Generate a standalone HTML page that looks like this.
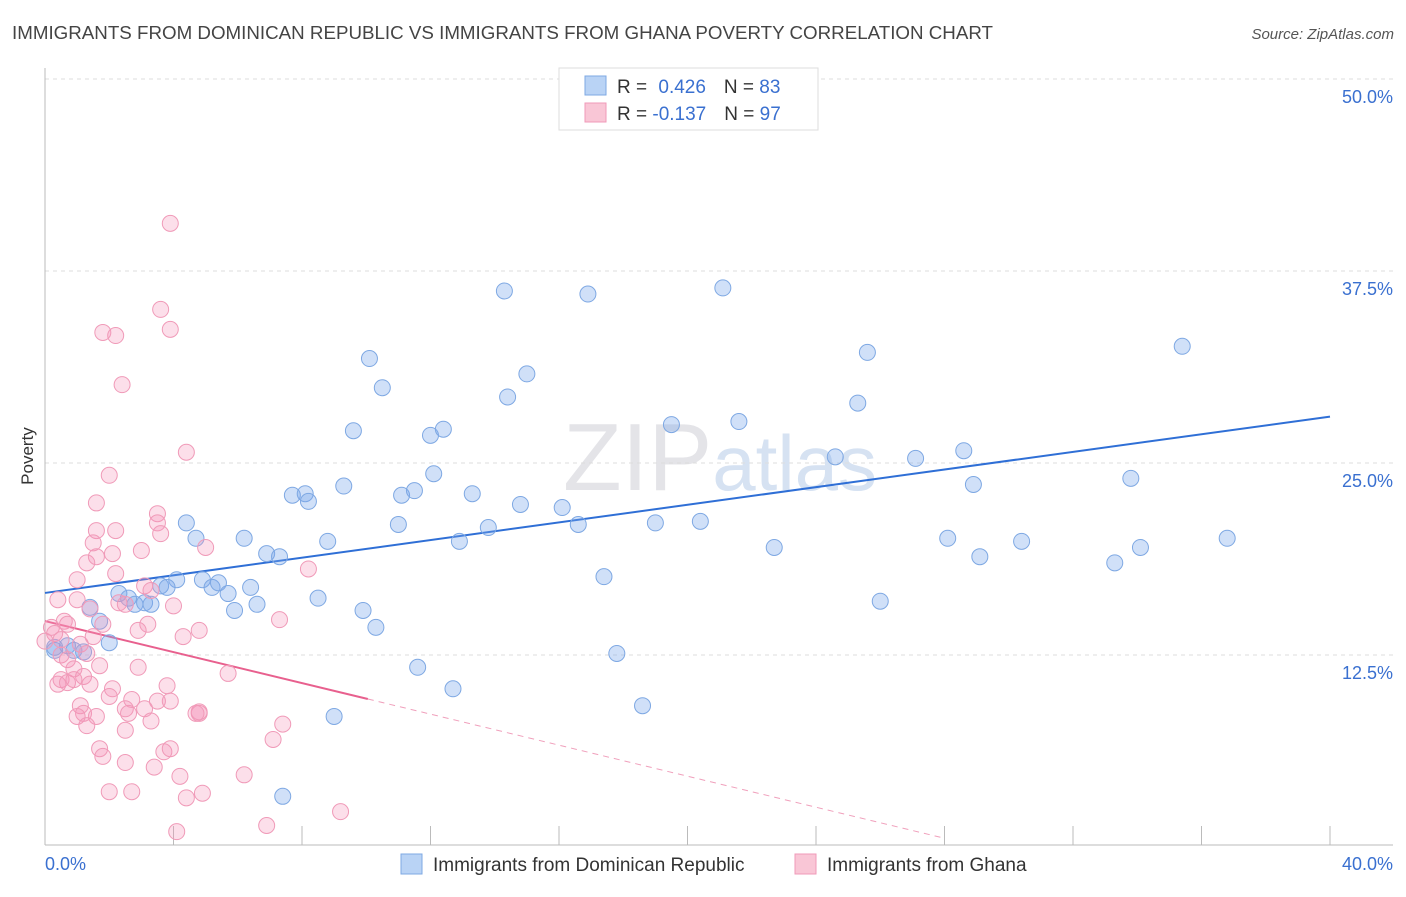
<!DOCTYPE html>
<html><head><meta charset="utf-8">
<style>
body{margin:0;background:#fff;font-family:"Liberation Sans",sans-serif;}
svg text{font-family:"Liberation Sans",sans-serif;}
</style></head>
<body>
<svg id="chart" width="1406" height="892">
<text x="12" y="39" font-size="18" fill="#444" textLength="981" lengthAdjust="spacingAndGlyphs">IMMIGRANTS FROM DOMINICAN REPUBLIC VS IMMIGRANTS FROM GHANA POVERTY CORRELATION CHART</text>
<text x="1394" y="39" font-size="15" fill="#555" font-style="italic" text-anchor="end">Source: ZipAtlas.com</text>
<text x="720" y="490" font-size="96" fill="#e4e4e8" text-anchor="middle" font-family="Liberation Serif">ZIP<tspan fill="#d6e2f2" font-family="Liberation Sans" font-size="78">atlas</tspan></text>
<g id="grid"></g>
<g id="axes"></g>
<g id="lines"></g>
<g id="points"></g>
<text x="33" y="456" font-size="17" fill="#333" text-anchor="middle" transform="rotate(-90 33 456)">Poverty</text>
<g>
<rect x="559" y="68" width="259" height="62" fill="#fff" stroke="#ddd"/>
<rect x="585" y="76" width="21" height="19" fill="#b9d3f5" stroke="#7ea8e3"/>
<rect x="585" y="103" width="21" height="19" fill="#f9c6d6" stroke="#f09ab8"/>
<text x="617" y="93" font-size="19" fill="#333">R = <tspan fill="#3a70d0" dx="6">0.426</tspan><tspan dx="18" fill="#333">N = </tspan><tspan fill="#3a70d0">83</tspan></text>
<text x="617" y="120" font-size="19" fill="#333">R = <tspan fill="#3a70d0">-0.137</tspan><tspan dx="18" fill="#333">N = </tspan><tspan fill="#3a70d0">97</tspan></text>
</g>
<g>
<rect x="401" y="854" width="21" height="20" fill="#b9d3f5" stroke="#7ea8e3"/>
<text x="433" y="871" font-size="19" fill="#333">Immigrants from Dominican Republic</text>
<rect x="795" y="854" width="21" height="20" fill="#f9c6d6" stroke="#f09ab8"/>
<text x="827" y="871" font-size="19" fill="#333">Immigrants from Ghana</text>
</g>
</svg>
<script>
const xTicks=[0,4,8,12,16,20,24,28,32,36,40];
const yTicks=[12.5,25,37.5,50];
const yTickLabels=["12.5%","25.0%","37.5%","50.0%"];
const xEndLabels=["0.0%","40.0%"];
const blueX=[14.3,16.9,21.1,35.4,10.1,25.6,10.5,15.0,14.4,25.3,9.6,12.0,12.4,19.5,21.6,24.6,27.1,28.6,12.1,9.3,7.7,8.1,8.2,11.1,11.5,13.3,14.8,16.1,33.8,28.9,4.4,4.7,6.2,11.0,13.8,16.6,19.0,20.4,12.9,8.8,6.9,7.3,22.7,28.1,29.1,30.4,34.1,33.3,36.8,17.4,4.1,3.6,3.8,4.9,5.2,5.4,5.7,6.4,2.3,2.6,2.8,3.1,3.3,1.4,5.9,6.6,8.5,9.9,26.0,1.7,10.3,2.0,0.7,0.9,0.3,1.2,17.8,11.6,12.7,18.6,9.0,7.4,0.3];
const blueY=[36.2,36.0,36.4,32.6,31.8,32.2,29.9,30.8,29.3,28.9,27.1,26.8,27.2,27.5,27.7,25.4,25.3,25.8,24.3,23.5,22.9,23.0,22.5,22.9,23.2,23.0,22.3,22.1,24.0,23.6,21.1,20.1,20.1,21.0,20.8,21.0,21.1,21.2,19.9,19.9,19.1,18.9,19.5,20.1,18.9,19.9,19.5,18.5,20.1,17.6,17.4,17.0,16.9,17.4,16.9,17.2,16.5,16.9,16.5,16.2,15.8,15.9,15.8,15.6,15.4,15.8,16.2,15.4,16.0,14.7,14.3,13.3,13.1,12.8,12.8,12.7,12.6,11.7,10.3,9.2,8.5,3.3,13.0];
const pinkX=[3.9,3.6,3.9,1.8,2.2,2.4,4.4,2.0,1.6,3.5,3.5,1.6,3.6,2.2,1.5,5.0,2.1,3.0,1.3,1.6,2.2,1.0,3.1,3.3,0.4,1.0,2.3,4.0,1.4,2.5,8.2,7.3,0.6,0.7,1.8,3.2,0.2,1.5,4.3,4.8,2.9,0.3,0.5,0.0,1.1,1.3,0.5,0.7,1.7,0.9,2.9,5.7,1.2,0.5,0.4,0.7,0.9,1.4,2.1,3.8,2.0,2.7,3.5,1.1,1.2,3.9,2.5,3.1,1.0,4.8,1.6,2.6,4.8,3.3,7.4,1.3,2.5,4.7,1.7,7.1,1.8,3.7,3.9,2.5,3.4,6.2,4.2,2.0,2.7,4.9,4.4,9.2,6.9,4.1];
const pinkY=[40.6,35.0,33.7,33.5,33.3,30.1,25.7,24.2,22.4,21.7,21.1,20.6,20.4,20.6,19.8,19.5,19.1,19.3,18.5,18.9,17.8,17.4,17.0,16.7,16.1,16.1,15.9,15.7,15.5,15.8,18.1,14.8,14.7,14.5,14.5,14.5,14.3,13.7,13.7,14.1,14.1,13.9,13.5,13.4,13.2,12.6,12.5,12.2,11.8,11.6,11.7,11.3,11.1,10.9,10.6,10.7,10.9,10.6,10.3,10.5,9.8,9.6,9.5,9.2,8.7,9.5,9.0,9.0,8.5,8.7,8.5,8.7,8.8,8.2,8.0,7.9,7.6,8.7,6.4,7.0,5.9,6.2,6.4,5.5,5.2,4.7,4.6,3.6,3.6,3.5,3.2,2.3,1.4,1.0];
const blueTrend=[16.54,0.287]; // intercept, slope
const pinkTrend=[14.71,-0.505];
const pinkSolidEnd=10.05;
const pinkDashEnd=27.9;

const NS="http://www.w3.org/2000/svg";
const X0=45,X1=1330,Y0=847,Y50=79;
const sx=v=>X0+(X1-X0)*v/40;
const sy=v=>Y0-(Y0-Y50)*v/50;
function mk(tag,attrs,parent){const e=document.createElementNS(NS,tag);for(const k in attrs)e.setAttribute(k,attrs[k]);parent.appendChild(e);return e;}
const grid=document.getElementById('grid'),axes=document.getElementById('axes'),lines=document.getElementById('lines'),pts=document.getElementById('points');
yTicks.forEach((t,i)=>{
  const l=mk('line',{x1:45,x2:1393,y1:sy(t),y2:sy(t),stroke:'#ddd','stroke-dasharray':'4 4'},grid);
  
  
  const tx=mk('text',{x:1393,y:sy(t)+24,'font-size':18,fill:'#3a70d0','text-anchor':'end'},axes);
  tx.textContent=yTickLabels[i];
  
  
});
const ya=mk('line',{x1:45,x2:45,y1:68,y2:845,stroke:'#bbb'},axes);


const xa=mk('line',{x1:45,x2:1393,y1:845,y2:845,stroke:'#bbb'},axes);


xTicks.forEach(t=>{
  const l=mk('line',{x1:sx(t),x2:sx(t),y1:826,y2:845,stroke:'#bbb'},axes);
  
  
});
const xl0=mk('text',{x:45,y:870,'font-size':18,fill:'#3a70d0'},axes);xl0.textContent=xEndLabels[0];


const xl1=mk('text',{x:1393,y:870,'font-size':18,fill:'#3a70d0','text-anchor':'end'},axes);xl1.textContent=xEndLabels[1];



blueX.forEach((v,i)=>{
  const c=mk('circle',{cx:sx(v),cy:sy(blueY[i]),r:8,fill:'rgba(120,165,235,0.35)',stroke:'#7ea8e3','stroke-width':1},pts);
  
  
});
pinkX.forEach((v,i)=>{
  const c=mk('circle',{cx:sx(v),cy:sy(pinkY[i]),r:8,fill:'rgba(245,150,185,0.3)',stroke:'#f09ab8','stroke-width':1},pts);
  
  
});
const bl=mk('line',{x1:sx(0),y1:sy(blueTrend[0]),x2:sx(40),y2:sy(blueTrend[0]+40*blueTrend[1]),stroke:'#2f6fd6','stroke-width':2},lines);


const pl=mk('line',{x1:sx(0),y1:sy(pinkTrend[0]),x2:sx(pinkSolidEnd),y2:sy(pinkTrend[0]+pinkSolidEnd*pinkTrend[1]),stroke:'#e8608e','stroke-width':2},lines);


const pd=mk('line',{x1:sx(pinkSolidEnd),y1:sy(pinkTrend[0]+pinkSolidEnd*pinkTrend[1]),x2:sx(pinkDashEnd),y2:sy(pinkTrend[0]+pinkDashEnd*pinkTrend[1]),stroke:'#f0a0bc','stroke-width':1,'stroke-dasharray':'6 5'},lines);


</script>
</body></html>
